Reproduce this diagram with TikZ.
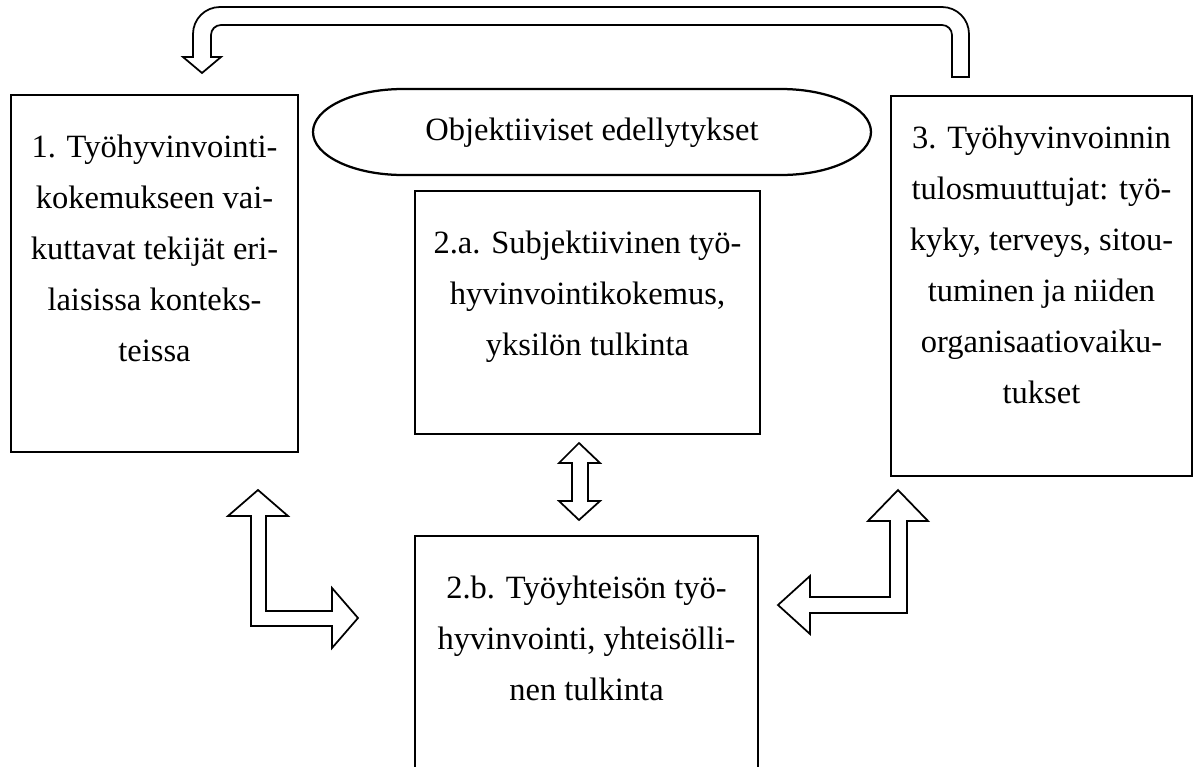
\documentclass[tikz,border=0pt]{standalone}
\usepackage{fontspec}
\setmainfont{Liberation Serif}
\usetikzlibrary{calc}
\newcommand{\pxlen}{0.4pt}

\begin{document}
\begin{tikzpicture}[x=0.4pt, y=-0.4pt,
    box/.style={draw, line width=0.9pt, inner sep=0pt},
    txt/.style={align=center, inner sep=0pt, anchor=north,
        font=\fontsize{13pt}{20.4pt}\selectfont},
    blockarrow/.style={draw, line width=0.7pt, fill=white, line join=miter}]
    \useasboundingbox (0,0) rectangle (1195,767);
    \clip (0,0) rectangle (1195,767);

    % left box
    \node[box, minimum width=287*\pxlen, minimum height=357*\pxlen] (b1) at (154.5,273.5) {};
    \node[txt] (t1) at ($(b1.north)+(0,40.5)$) {1. Työhyvinvointi-\\kokemukseen vai-\\kuttavat tekijät eri-\\laisissa konteks-\\teissa};

    % objective conditions
    \node[txt, anchor=center] (obj) at (592,133) {Objektiiviset edellytykset};
    \draw[line width=0.9pt] (403,89) -- (781,89)
        arc[start angle=90, end angle=-90, x radius=36pt, y radius=17.2pt] -- (403,175)
        arc[start angle=270, end angle=90, x radius=36pt, y radius=17.2pt] -- cycle;

    % 2.a and 2.b
    \node[box, minimum width=345*\pxlen, minimum height=243*\pxlen] (b2a) at (587.5,312.5) {};
    \node[txt] (t2a) at ($(b2a.north)+(0,40.5)$) {2.a. Subjektiivinen työ-\\hyvinvointikokemus,\\yksilön tulkinta};
    \node[box, minimum width=343*\pxlen, minimum height=260*\pxlen] (b2b) at (586.5,666) {};
    \node[txt] (t2b) at ($(b2b.north)+(0,40.5)$) {2.b. Työyhteisön työ-\\hyvinvointi, yhteisölli-\\nen tulkinta};

    % right box
    \node[box, minimum width=301*\pxlen, minimum height=380*\pxlen] (b3) at (1041.5,286) {};
    \node[txt] (t3) at ($(b3.north)+(0,30.5)$) {3. Työhyvinvoinnin\\tulosmuuttujat: työ-\\kyky, terveys, sitou-\\tuminen ja niiden\\organisaatiovaiku-\\tukset};

    % feedback arrow over the top
    \draw[blockarrow] (969,77) -- (969,34)
        arc[start angle=0, end angle=90, radius=10.8pt] -- (220,7)
        arc[start angle=90, end angle=180, radius=10.8pt] -- (193,57)
        -- (183,57) -- (202,73) -- (221,57) -- (211,57) -- (211,35)
        arc[start angle=180, end angle=90, radius=4pt] -- (942,25)
        arc[start angle=90, end angle=0, radius=4pt] -- (952,77) -- cycle;

    % 1 <-> 2.b
    \draw[blockarrow] (258,490) -- (288,516) -- (266,516) -- (266,611) -- (332,611)
        -- (332,588) -- (358,618) -- (332,648) -- (332,626) -- (251,626)
        -- (251,516) -- (228,516) -- cycle;

    % 2.a <-> 2.b
    \draw[blockarrow] (579,443) -- (600,463) -- (588,463) -- (588,501) -- (600,501)
        -- (579,520) -- (559,501) -- (572,501) -- (572,463) -- (559,463) -- cycle;

    % 2.b <-> 3
    \draw[blockarrow] (898,490) -- (928,521) -- (907,521) -- (907,613) -- (810,613)
        -- (810,634) -- (778,605) -- (810,576) -- (810,597) -- (890,597)
        -- (890,521) -- (868,521) -- cycle;
\end{tikzpicture}
\end{document}
